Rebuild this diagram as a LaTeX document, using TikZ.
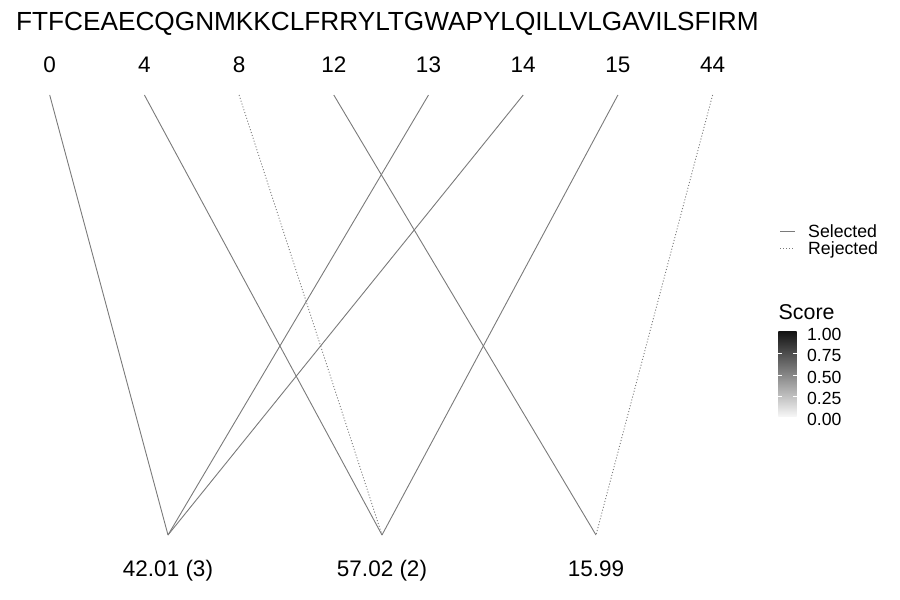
\documentclass[tikz,border=0pt]{standalone}
\usepackage{fontspec}
\setmainfont{Liberation Sans}
\usetikzlibrary{positioning}
\tikzset{
  seqlab/.style={font=\fontsize{26.2}{28}\selectfont, anchor=base west, inner sep=0pt},
  poslab/.style={font=\fontsize{22.5}{25}\selectfont, anchor=base, inner sep=0pt},
  masslab/.style={poslab},
  sel/.style={draw=black!52, line width=0.9pt},
  rej/.style={sel, dash pattern=on 1pt off 2pt},
  keylab/.style={font=\fontsize{17.7}{20}\selectfont, anchor=base west, inner sep=0pt},
  keyhead/.style={font=\fontsize{21.4}{24}\selectfont, anchor=base west, inner sep=0pt},
  ticklab/.style={font=\fontsize{17.6}{20}\selectfont, anchor=base west, inner sep=0pt},
  bartick/.style={draw=white, line width=0.6pt},
}

\begin{document}
\begin{tikzpicture}[x=1pt, y=-1pt]
  \useasboundingbox (0,0) rectangle (900,600);

  % sequence
  \node[seqlab] (seq) at (16,30) {FTFCEAECQGNMKKCLFRRYLTGWAPYLQILLVLGAVILSFIRM};

  % positions
  \node[poslab] (p0)  at (49.7,72)  {0};
  \node[poslab] (p4)  at (144.4,72) {4};
  \node[poslab] (p8)  at (239.1,72) {8};
  \node[poslab] (p12) at (333.8,72) {12};
  \node[poslab] (p13) at (428.5,72) {13};
  \node[poslab] (p14) at (523.2,72) {14};
  \node[poslab] (p15) at (617.9,72) {15};
  \node[poslab] (p44) at (712.6,72) {44};

  \coordinate (t0)  at (49.7,95);
  \coordinate (t4)  at (144.4,95);
  \coordinate (t8)  at (239.1,95);
  \coordinate (t12) at (333.8,95);
  \coordinate (t13) at (428.5,95);
  \coordinate (t14) at (523.2,95);
  \coordinate (t15) at (617.9,95);
  \coordinate (t44) at (712.6,95);

  % masses
  \coordinate (m1) at (168,535);
  \coordinate (m2) at (382,535);
  \coordinate (m3) at (596,535);
  \node[masslab] (l1) at (168,576) {42.01 (3)};
  \node[masslab] (l2) at (382,576) {57.02 (2)};
  \node[masslab] (l3) at (596,576) {15.99};

  % links
  \draw[sel] (t0)  -- (m1);
  \draw[sel] (t4)  -- (m2);
  \draw[rej] (t8)  -- (m2);
  \draw[sel] (t12) -- (m3);
  \draw[sel] (t13) -- (m1);
  \draw[sel] (t14) -- (m1);
  \draw[sel] (t15) -- (m2);
  \draw[rej] (t44) -- (m3);

  % legend: line type
  \coordinate (k1a) at (780,231.5);
  \coordinate (k1b) at (795,231.5);
  \coordinate (k2a) at (780,248.5);
  \coordinate (k2b) at (795,248.5);
  \draw[sel, line width=1.1pt] (k1a) -- (k1b);
  \draw[rej, line width=1.1pt] (k2a) -- (k2b);
  \node[keylab] (kSel) at (808,237.5) {Selected};
  \node[keylab] (kRej) at (808,254.5) {Rejected};

  % legend: score
  \node[keyhead] (kScore) at (778.5,319.5) {Score};
  \shade[top color=black!92, bottom color=black!3] (778.3,331.7) rectangle (796.7,416.7);
  \foreach \yy in {353.6,374.9,396.3}{
    \draw[bartick] (778.3,\yy) -- ++(3.5,0);
    \draw[bartick] (796.7,\yy) -- ++(-3.5,0);
  }
  \node[ticklab] (s100) at (807,340.2) {1.00};
  \node[ticklab] (s075) at (807,361.6) {0.75};
  \node[ticklab] (s050) at (807,383.0) {0.50};
  \node[ticklab] (s025) at (807,404.4) {0.25};
  \node[ticklab] (s000) at (807,425.8) {0.00};
\end{tikzpicture}
\end{document}
